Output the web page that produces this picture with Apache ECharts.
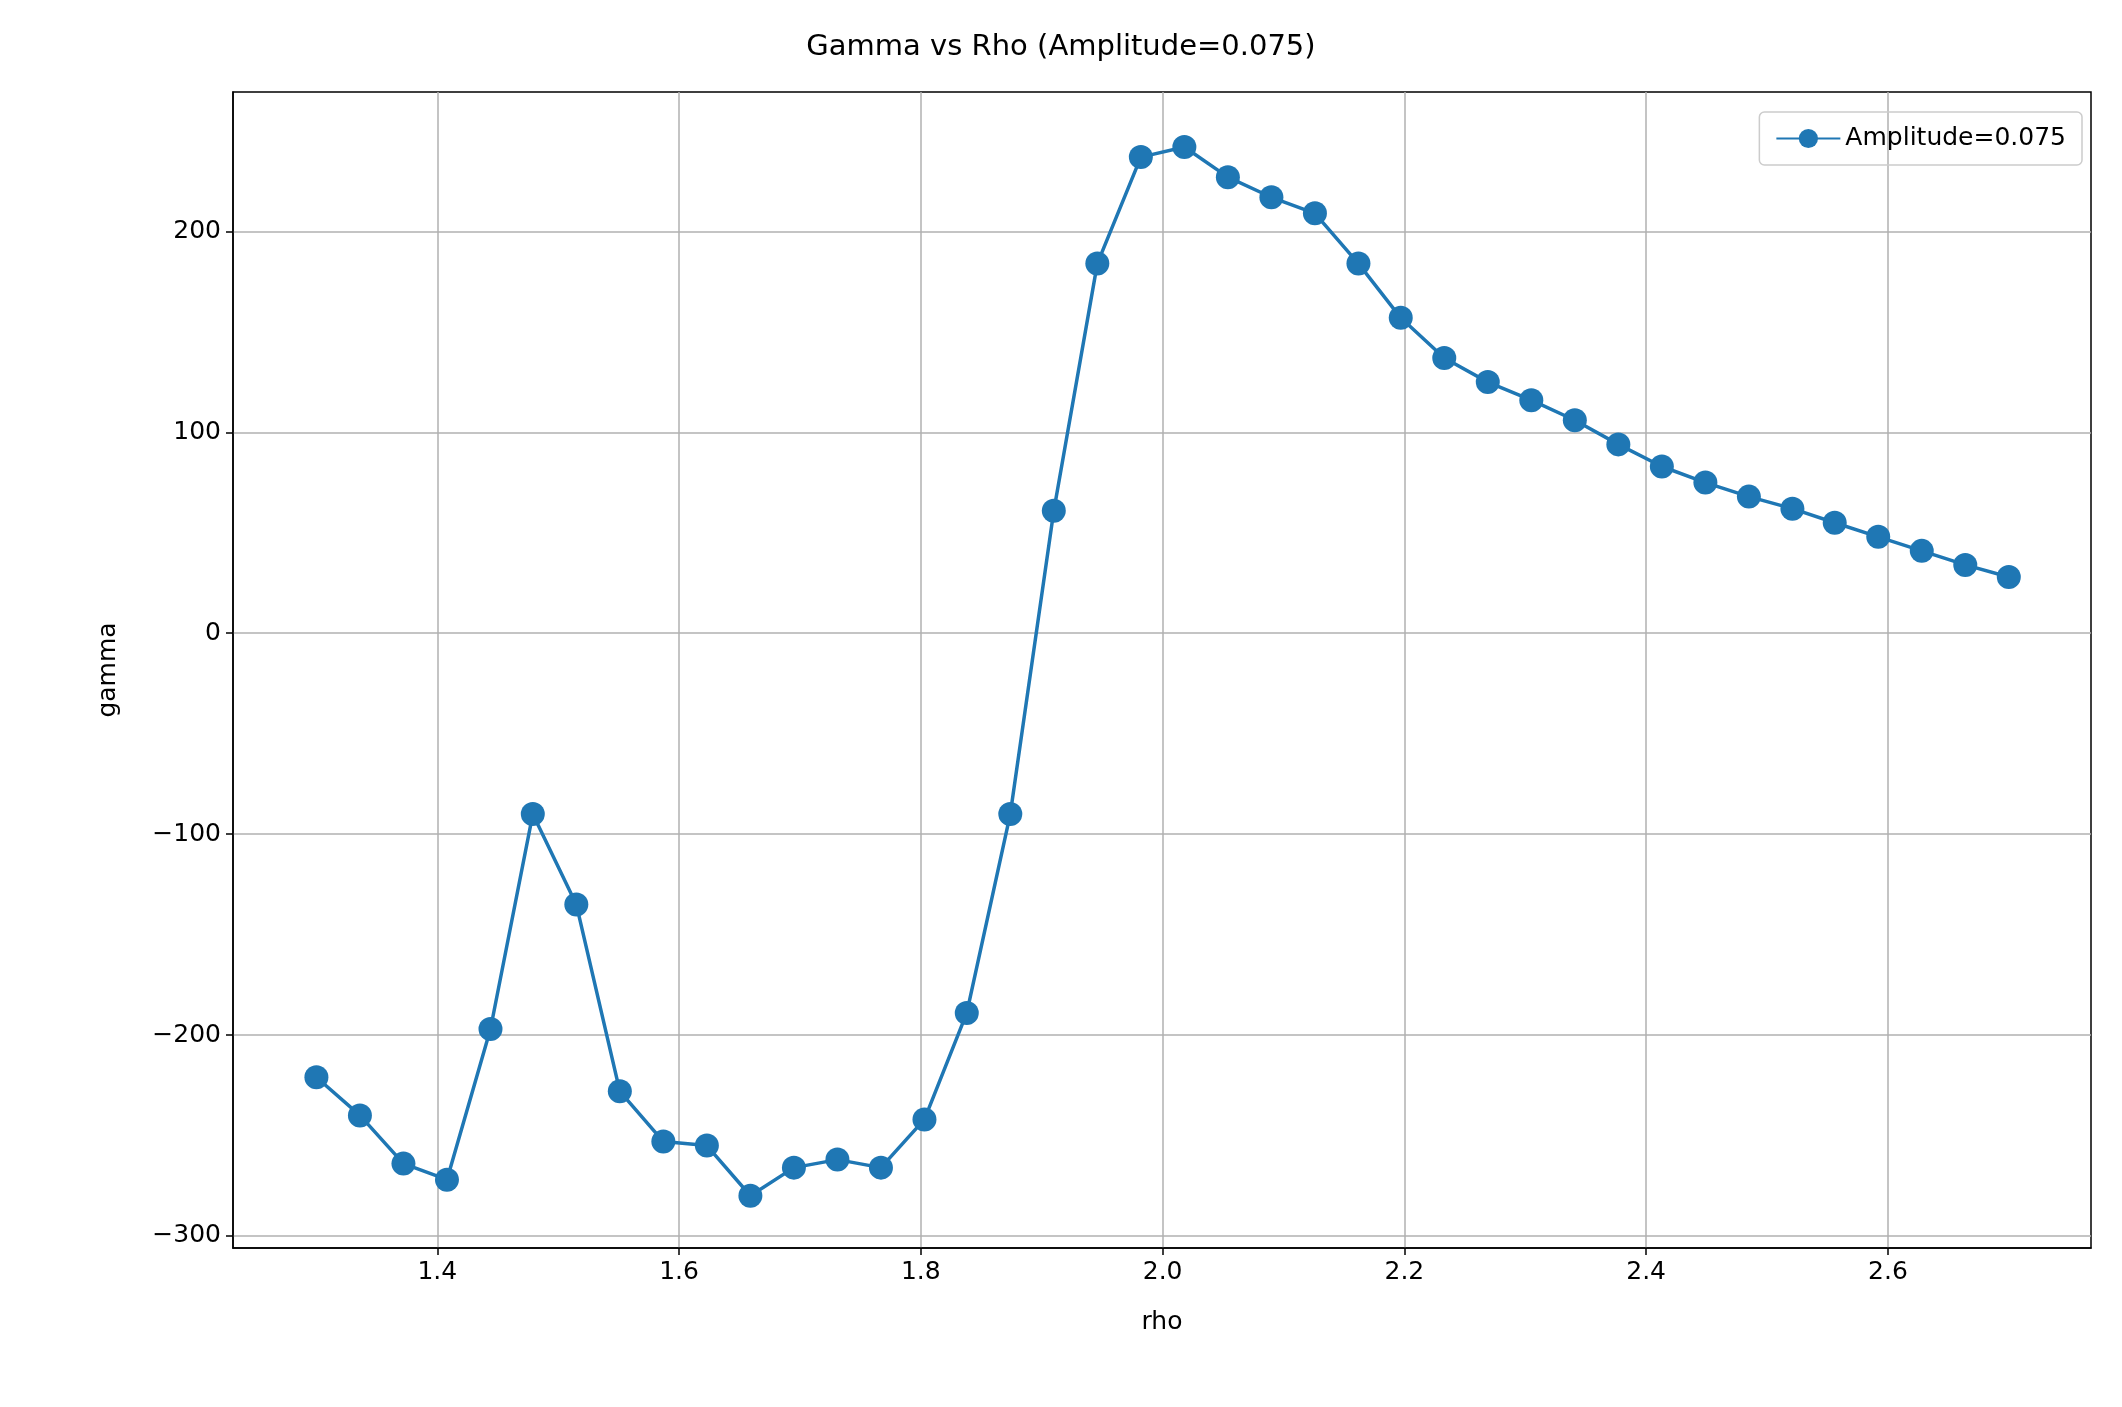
<!DOCTYPE html>
<html>
<head>
<meta charset="utf-8">
<script src="https://cdn.jsdelivr.net/npm/echarts@6/dist/echarts.min.js"></script>
<style>html,body{margin:0;padding:0;background:#fff}#c{width:2122px;height:1407px}</style>
</head>
<body>
<div id="c"></div>
<script>
const rho = [1.300, 1.336, 1.372, 1.408, 1.444, 1.479, 1.515, 1.551, 1.587, 1.623,
  1.659, 1.695, 1.731, 1.767, 1.803, 1.838, 1.874, 1.910, 1.946, 1.982,
  2.018, 2.054, 2.090, 2.126, 2.162, 2.197, 2.233, 2.269, 2.305, 2.341,
  2.377, 2.413, 2.449, 2.485, 2.521, 2.556, 2.592, 2.628, 2.664, 2.700];
const gamma = [-221, -240, -264, -272, -197, -90, -135, -228, -253, -255,
  -280, -266, -262, -266, -242, -189, -90, 61, 184, 237,
  242, 227, 217, 209, 184, 157, 137, 125, 116, 106,
  94, 83, 75, 68, 62, 55, 48, 41, 34, 28];
const xTicks = [1.4, 1.6, 1.8, 2.0, 2.2, 2.4, 2.6];
const yTicks = [-300, -200, -100, 0, 100, 200];

const chart = echarts.init(document.getElementById('c'));
const font = 'DejaVu Sans';
chart.setOption({
  animation: false,
  title: {
    text: 'Gamma vs Rho (Amplitude=0.075)', left: 'center', top: 28,
    textStyle: { fontFamily: font, fontSize: 29, fontWeight: 'normal', color: '#000' }
  },
  legend: {
    right: 40, top: 112, orient: 'vertical',
    itemWidth: 64, itemHeight: 24, itemGap: 6, padding: [14, 16],
    borderColor: '#ccc', borderWidth: 1.5, borderRadius: 5,
    textStyle: { fontFamily: font, fontSize: 25, color: '#000' }
  },
  grid: { left: 233, right: 31, top: 92, bottom: 159, show: true, borderColor: '#000', borderWidth: 1.5 },
  xAxis: {
    type: 'value', min: 1.231, max: 2.768,
    name: 'rho', nameLocation: 'middle', nameGap: 62,
    nameTextStyle: { fontFamily: font, fontSize: 25, color: '#000' },
    axisLine: { onZero: false, lineStyle: { color: '#000', width: 1.5 } },
    axisTick: { customValues: xTicks, length: 7, lineStyle: { color: '#000', width: 1.5 } },
    axisLabel: { customValues: xTicks, fontFamily: font, fontSize: 25, color: '#000', margin: 12,
      formatter: v => v.toFixed(1) },
    splitLine: { show: true, lineStyle: { color: '#b0b0b0', width: 1.5 } }
  },
  yAxis: {
    type: 'value', min: -306, max: 269.4,
    name: 'gamma', nameLocation: 'middle', nameGap: 112, nameRotate: 90,
    nameTextStyle: { fontFamily: font, fontSize: 25, color: '#000' },
    axisLine: { show: true, onZero: false, lineStyle: { color: '#000', width: 1.5 } },
    axisTick: { show: true, customValues: yTicks, length: 7, lineStyle: { color: '#000', width: 1.5 } },
    axisLabel: { customValues: yTicks, fontFamily: font, fontSize: 25, color: '#000', margin: 12,
      formatter: v => v < 0 ? '\u2212' + Math.abs(v) : String(v) },
    splitLine: { show: true, lineStyle: { color: '#b0b0b0', width: 1.5 } }
  },
  series: [{
    name: 'Amplitude=0.075', type: 'line',
    data: rho.map((r, i) => [r, gamma[i]]),
    symbol: 'circle', symbolSize: 24,
    color: '#1f77b4',
    lineStyle: { width: 3.5, color: '#1f77b4' },
    itemStyle: { color: '#1f77b4' }
  }]
});
</script>
</body>
</html>
